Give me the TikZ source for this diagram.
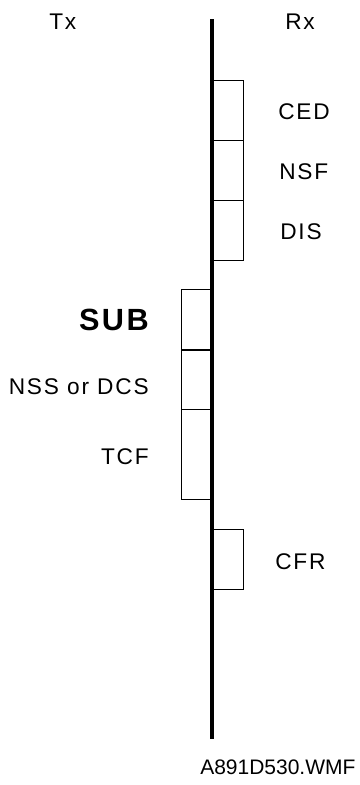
\documentclass[tikz,border=0pt]{standalone}
\usepackage{fontspec}
\setmainfont{Liberation Sans}
\newfontfamily\lblfont[LetterSpace=8]{Liberation Sans}
\begin{document}
\begin{tikzpicture}[x=0.75pt,y=-0.75pt,
  lbl/.style={font=\lblfont\fontsize{17pt}{20pt}\selectfont, inner sep=0pt, text depth=0pt},
  big/.style={font=\fontsize{23pt}{26pt}\selectfont\bfseries\lblfont, inner sep=0pt, text depth=0pt},
  fname/.style={font=\fontsize{15.75pt}{18pt}\selectfont, inner sep=0pt, text depth=0pt},
  frame/.style={draw, line width=0.8pt, inner sep=0pt, minimum width=22.5pt, minimum height=45pt}]
\useasboundingbox (0,0) rectangle (360,785);
% right boxes
\node[frame, anchor=north west] (ced) at (213,80) {};
\node[frame, anchor=north west] (nsf) at (213,140) {};
\node[frame, anchor=north west] (dis) at (213,200) {};
% left boxes
\node[frame, anchor=north east] (sub) at (212,289) {};
\node[frame, anchor=north east, minimum height=44.25pt] (nss) at (212,350) {};
\node[frame, anchor=north east, minimum height=67.5pt] (tcf) at (212,409) {};
\node[frame, anchor=north west] (cfr) at (213,529) {};
% main line
\coordinate (top) at (212,19);
\coordinate (bot) at (212,739);
\draw[line width=3pt] (top) -- (bot);
% labels
\node[lbl, anchor=west] (tx) at (49,22) {Tx};
\node[lbl, anchor=west] (rx) at (285,22) {Rx};
\node[lbl, anchor=west] (lced) at (278,112) {CED};
\node[lbl, anchor=west] (lnsf) at (279,172) {NSF};
\node[lbl, anchor=west] (ldis) at (280,232) {DIS};
\node[big, anchor=east] (lsub) at (149,320) {SUB};
\node[lbl, anchor=east] (lnss) at (149,387) {NSS or DCS};
\node[lbl, anchor=east] (ltcf) at (149,457) {TCF};
\node[lbl, anchor=west] (lcfr) at (275,562) {CFR};
\node[fname, anchor=west] (fn) at (200,767) {A891D530.WMF};
\end{tikzpicture}
\end{document}
